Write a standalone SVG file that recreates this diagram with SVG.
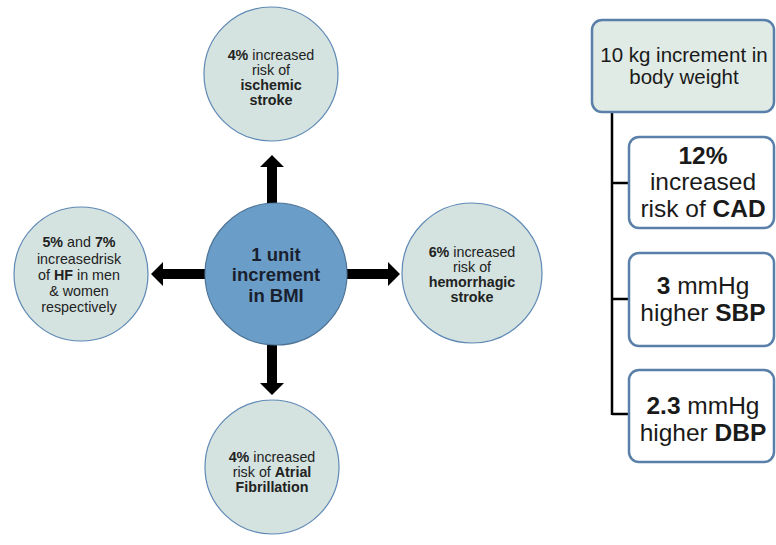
<svg xmlns="http://www.w3.org/2000/svg" width="776" height="545" viewBox="0 0 776 545">
<style>
.lc{fill:#d4e2e0;stroke:#5f89b5;stroke-width:1.2}
.cc{fill:#6a9ec9;stroke:#4d7397;stroke-width:1.2}
.bx{fill:#fff;stroke:#5a80aa;stroke-width:2.5}
.tb{fill:#e0ebe6;stroke:#5a80aa;stroke-width:2.5}
.t{font-family:"Liberation Sans",Arial,sans-serif;font-size:14.3px;fill:#222;text-anchor:middle}
.ct{font-family:"Liberation Sans",Arial,sans-serif;font-size:18.5px;font-weight:bold;fill:#1a1f2e;text-anchor:middle}
.bt{font-family:"Liberation Sans",Arial,sans-serif;font-size:24.5px;fill:#1a1a1a;text-anchor:middle}
.ht{font-family:"Liberation Sans",Arial,sans-serif;font-size:20.5px;fill:#1a1a1a;text-anchor:middle}
.b{font-weight:bold}
.ar{fill:#000}
.ln{stroke:#000;stroke-width:2.5;fill:none}
</style>
<g id="connectors">
<polygon class="ar" points="205,269 163,269 163,262 151,274 163,286 163,279 205,279"/>
<polygon class="ar" points="347,269 388,269 388,262 400,274 388,286 388,279 347,279"/>
<polygon class="ar" points="267,203 267,167 260,167 272,155 284,167 277,167 277,203"/>
<polygon class="ar" points="267,345 267,383 260,383 272,395 284,383 277,383 277,345"/>
<path class="ln" d="M612,112 V415 M612,183 H629 M612,299 H629 M612,414 H629"/>
</g>
<g id="center">
<circle class="cc" cx="276" cy="274" r="71"/>
<text class="ct" x="276" y="261">1 unit</text>
<text class="ct" x="276" y="281">increment</text>
<text class="ct" x="276" y="302">in BMI</text>
</g>
<g id="ischemic">
<circle class="lc" cx="271" cy="74" r="67"/>
<text class="t" x="271" y="60"><tspan class="b">4%</tspan> increased</text>
<text class="t" x="271" y="75">risk of</text>
<text class="t b" x="271" y="90">ischemic</text>
<text class="t b" x="271" y="105">stroke</text>
</g>
<g id="hf">
<circle class="lc" cx="81" cy="274" r="67"/>
<text class="t" x="79" y="247"><tspan class="b">5%</tspan> and <tspan class="b">7%</tspan></text>
<text class="t" x="79" y="264">increasedrisk</text>
<text class="t" x="79" y="280">of <tspan class="b">HF</tspan> in men</text>
<text class="t" x="79" y="296">&amp; women</text>
<text class="t" x="79" y="312">respectively</text>
</g>
<g id="hemorrhagic">
<circle class="lc" cx="472" cy="273" r="70"/>
<text class="t" x="472" y="257"><tspan class="b">6%</tspan> increased</text>
<text class="t" x="472" y="272">risk of</text>
<text class="t b" x="472" y="287">hemorrhagic</text>
<text class="t b" x="472" y="302">stroke</text>
</g>
<g id="af">
<circle class="lc" cx="272" cy="467" r="67"/>
<text class="t" x="272" y="462"><tspan class="b">4%</tspan> increased</text>
<text class="t" x="272" y="477">risk of <tspan class="b">Atrial</tspan></text>
<text class="t b" x="272" y="492">Fibrillation</text>
</g>
<g id="weight">
<rect class="tb" x="592" y="20" width="182" height="92" rx="10"/>
<text class="ht" x="684" y="62">10 kg increment in</text>
<text class="ht" x="684" y="84">body weight</text>
</g>
<g id="cad">
<rect class="bx" x="629" y="137" width="145" height="91" rx="10"/>
<text class="bt" x="703" y="164"><tspan class="b">12%</tspan></text>
<text class="bt" x="703" y="190">increased</text>
<text class="bt" x="703" y="217">risk of <tspan class="b">CAD</tspan></text>
</g>
<g id="sbp">
<rect class="bx" x="629" y="253" width="145" height="93" rx="10"/>
<text class="bt" x="703" y="294"><tspan class="b">3</tspan> mmHg</text>
<text class="bt" x="703" y="321">higher <tspan class="b">SBP</tspan></text>
</g>
<g id="dbp">
<rect class="bx" x="629" y="370" width="145" height="92" rx="10"/>
<text class="bt" x="703" y="414"><tspan class="b">2.3</tspan> mmHg</text>
<text class="bt" x="703" y="441">higher <tspan class="b">DBP</tspan></text>
</g>
</svg>
